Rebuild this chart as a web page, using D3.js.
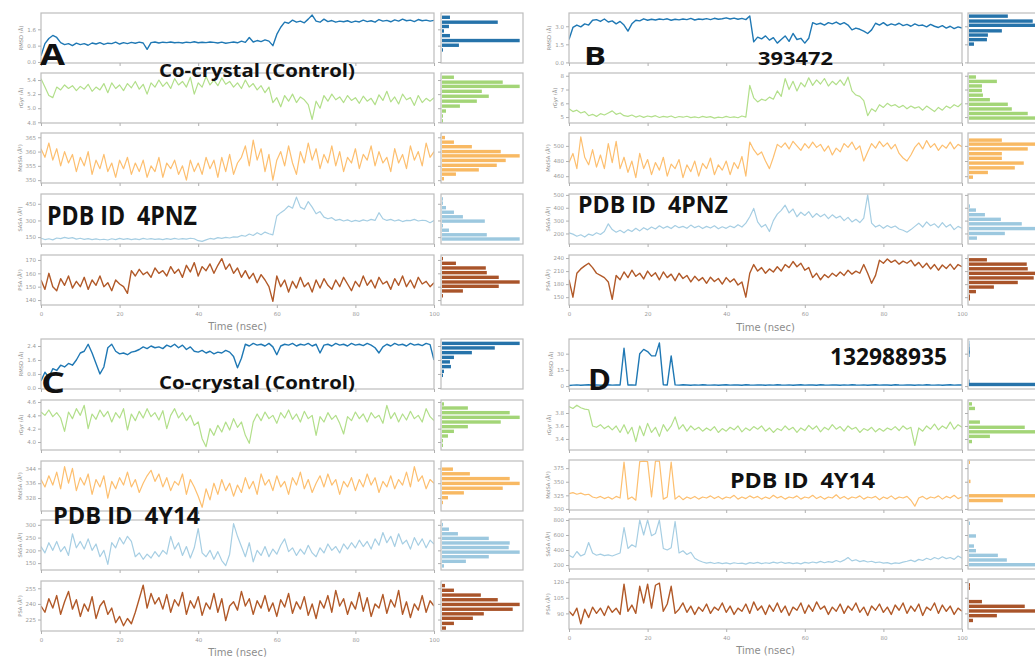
<!DOCTYPE html>
<html>
<head>
<meta charset="utf-8">
<title>Ligand properties over 100 ns MD</title>
<style>
  body { margin: 0; background: #fff; }
  svg { display: block; }
  .tick line { stroke: #b0b0b0; }
  .tick text { fill: #9a9a9a; font-family: 'DejaVu Sans', sans-serif; font-size: 5.5px; }
  .ylab { fill: #8a8a8a; font-family: 'DejaVu Sans', sans-serif; font-size: 5.2px; }
  .xlab { fill: #8c8c8c; font-family: 'DejaVu Sans', sans-serif; font-size: 10px; }
  .note { fill: #111; font-family: 'Open Sans', 'Noto Sans', sans-serif; font-weight: 700; white-space: pre; }
</style>
</head>
<body>
<div id="chart"></div>
<script src="https://cdn.jsdelivr.net/npm/d3@7"></script>
<script>
// ---- time series, one value per ns (0..100) ----
// panel A : co-crystal 4PNZ
const rmsdA = [0.3,0.9,1.15,1.3,1.2,0.95,0.85,0.9,0.8,0.92,
  0.85,0.9,0.82,0.93,0.88,0.95,0.86,0.92,0.9,0.97,
  0.88,0.95,0.9,0.96,0.92,0.97,0.93,0.62,0.95,0.98,
  0.93,0.97,0.95,0.98,0.94,0.96,0.93,0.97,0.95,0.99,
  0.94,0.97,0.95,0.98,0.96,0.93,0.97,0.92,0.95,0.98,
  0.94,1.02,0.96,1.2,0.98,1.05,1.0,1.08,1.02,0.8,
  1.35,1.7,1.95,1.9,2.05,1.95,2.0,1.92,2.1,2.3,
  2.0,1.95,2.1,1.98,2.03,1.95,2.0,1.97,2.02,1.94,
  2.0,1.96,2.05,1.98,2.02,1.95,2.08,2.0,2.04,1.97,
  2.06,2.0,2.1,2.02,2.05,1.98,2.08,2.02,2.05,2.0,
  2.04];
const rgyrA = [5.42,5.3,5.18,5.15,5.3,5.26,5.33,5.28,5.32,5.25,
  5.31,5.27,5.34,5.24,5.3,5.26,5.35,5.22,5.36,5.28,
  5.33,5.25,5.35,5.29,5.38,5.27,5.34,5.2,5.36,5.3,
  5.4,5.31,5.37,5.28,5.42,5.33,5.38,5.3,5.44,5.2,
  5.36,5.3,5.45,5.33,5.4,5.32,5.43,5.34,5.38,5.3,
  5.36,5.28,5.4,5.3,5.35,5.26,5.32,5.22,5.3,5.08,
  5.15,5.02,5.18,5.1,5.2,5.08,5.16,5.12,5.05,4.84,
  5.1,5.0,5.18,5.1,5.2,5.12,5.16,5.08,5.18,5.11,
  5.15,5.07,5.17,5.1,5.14,5.05,5.19,5.11,5.24,5.09,
  5.16,5.06,5.2,5.12,5.15,5.04,5.18,5.08,5.14,5.1,
  5.15];
const molsaA = [361,358,363,357,361,355,360,356,359,353,
  358,355,360,352,357,354,359,353,356,351,
  357,354,358,352,356,353,357,351,355,353,
  358,351,356,354,357,352,355,350,357,353,
  356,352,358,354,357,351,358,353,359,352,
  356,358,362,355,364,357,361,353,359,350,
  357,360,355,362,356,352,360,356,363,357,
  361,354,359,356,362,355,360,353,358,356,
  361,354,359,357,362,355,360,356,358,353,
  361,356,359,354,362,357,360,355,363,358,
  360];
const sasaA = [140,128,135,125,142,136,148,138,145,132,
  140,130,137,128,134,126,131,124,135,128,
  138,130,136,127,134,128,138,131,136,129,
  134,127,136,130,138,131,137,132,140,135,
  118,112,125,138,132,145,138,148,142,152,
  150,165,158,178,165,190,172,195,180,170,
  340,370,395,430,410,510,420,400,470,420,
  360,380,330,315,325,300,310,295,305,290,
  300,292,305,295,310,300,370,315,300,310,
  295,305,290,300,298,310,295,302,298,280,
  300];
const psaA = [155,148,160,150,147,156,151,158,149,154,
  150,157,148,155,151,158,150,153,147,155,
  152,150,145,162,158,163,159,161,157,164,
  160,162,158,165,160,163,157,166,161,168,
  158,165,162,167,160,166,171,163,167,160,
  164,157,162,156,160,153,159,155,150,139,
  158,150,155,146,154,149,157,150,153,146,
  155,149,156,151,148,155,150,157,152,147,
  154,150,158,151,155,149,157,152,154,148,
  156,151,158,150,155,149,157,152,154,150,
  153];

// panel B : compound 393472 in 4PNZ
const rmsdB = [1.9,2.9,3.1,2.95,3.2,3.1,3.5,3.55,3.4,3.6,
  3.35,3.45,3.2,3.4,3.1,2.6,3.2,3.5,3.45,3.62,
  3.5,3.58,3.52,3.6,3.55,3.62,3.5,3.58,3.53,3.6,
  3.55,3.65,3.52,3.6,3.56,3.63,3.55,3.66,3.58,3.62,
  3.7,3.6,3.68,3.58,3.65,3.55,3.85,1.7,2.1,1.95,
  2.2,1.85,2.05,1.6,1.9,2.2,1.75,2.4,1.9,2.0,
  1.6,2.0,3.3,3.15,3.25,3.1,3.3,3.2,3.35,3.15,
  3.3,3.1,2.7,2.85,2.75,2.6,2.4,2.7,3.25,3.1,
  3.3,3.05,3.2,3.1,3.25,3.05,3.15,3.0,3.2,3.05,
  3.1,2.95,3.15,3.0,2.9,3.05,2.85,3.0,2.8,2.95,
  2.85];
const rgyrB = [5.6,5.4,5.5,5.3,5.4,5.1,5.2,5.05,5.25,5.15,
  5.3,5.45,5.2,5.3,5.1,5.05,5.15,5.0,5.1,4.98,
  5.08,5.02,5.1,4.97,5.05,5.0,5.08,4.95,5.04,4.99,
  5.06,4.96,5.02,4.95,5.05,4.98,5.03,4.92,5.0,4.95,
  5.05,4.97,5.02,4.95,5.08,5.0,7.3,6.4,6.1,6.3,
  6.2,6.45,6.3,6.9,6.5,7.8,7.0,7.6,6.9,7.5,
  7.2,7.85,7.3,7.7,7.4,7.8,7.25,7.6,7.35,7.7,
  7.3,7.9,6.9,6.6,6.5,6.2,5.1,5.6,5.4,5.9,
  5.7,6.0,5.8,5.9,5.7,5.85,5.6,5.8,5.65,5.75,
  5.5,5.8,5.6,5.4,5.7,5.5,5.8,5.65,5.9,5.75,
  6.0];
const molsaB = [478,490,470,512,485,475,495,472,488,470,
  503,478,506,470,485,465,480,458,490,470,
  482,462,478,468,485,460,476,470,482,458,
  475,466,480,460,477,470,484,462,475,468,
  480,462,478,470,486,460,505,495,488,492,
  480,470,485,502,498,504,496,506,500,494,
  503,497,505,498,502,493,500,488,497,492,
  503,498,505,495,500,480,492,503,497,506,
  499,504,496,502,490,484,480,488,498,504,
  496,507,498,503,494,501,497,505,496,502,
  499];
const sasaB = [205,195,178,190,172,195,185,205,192,215,
  275,230,210,225,205,230,215,240,220,245,
  228,250,235,260,240,255,238,262,245,255,
  240,265,245,258,238,255,242,260,236,252,
  240,258,245,268,250,280,330,395,290,250,
  270,215,300,350,380,420,360,390,330,365,
  340,370,325,355,330,350,315,345,320,335,
  300,325,290,310,285,320,500,280,250,265,
  240,262,245,258,235,225,210,230,255,280,
  250,290,260,275,245,285,250,270,230,255,
  240];
const psaB = [190,150,205,215,222,228,218,205,200,195,
  185,145,200,190,208,195,212,198,205,192,
  210,198,206,190,208,195,203,188,205,193,
  200,185,198,188,195,182,196,186,193,180,
  195,185,192,178,185,150,205,225,210,218,
  205,215,208,220,210,225,218,232,220,228,
  212,218,195,205,190,202,195,205,198,208,
  200,212,203,210,205,225,205,182,200,235,
  228,238,230,235,226,233,228,235,222,230,
  218,228,215,225,212,224,216,226,214,225,
  220];

// panel C : co-crystal 4Y14
const rmsdC = [0.4,0.9,0.6,1.1,1.0,1.3,1.2,1.4,1.3,1.6,
  2.0,2.1,2.5,2.0,1.4,0.8,1.2,2.3,2.5,2.1,
  1.95,2.0,1.9,2.05,2.1,2.2,2.35,2.25,2.4,2.3,
  2.35,2.25,2.45,2.35,2.5,2.3,2.45,2.2,2.35,2.1,
  2.05,2.15,2.0,2.1,1.95,2.05,2.0,2.15,2.05,1.8,
  1.15,1.7,2.5,2.4,2.55,2.45,2.5,2.4,2.55,2.35,
  1.9,2.4,2.5,2.45,2.55,2.4,2.5,2.45,2.55,2.4,
  2.5,2.0,2.45,2.5,2.4,2.55,2.45,2.5,2.4,2.55,
  2.45,2.5,2.42,2.55,2.45,2.3,2.0,2.35,2.5,2.4,
  2.55,2.45,2.5,2.4,2.55,2.45,2.5,2.42,2.55,2.48,
  1.6];
const rgyrC = [4.45,4.4,4.48,4.38,4.44,4.36,4.16,4.45,4.35,4.5,
  4.4,4.55,4.2,4.42,4.34,4.48,4.38,4.46,4.3,4.44,
  4.36,4.5,4.18,4.42,4.32,4.46,4.36,4.5,4.38,4.44,
  4.33,4.47,4.2,4.4,4.5,4.36,4.44,4.32,4.4,4.25,
  4.3,4.05,3.93,4.2,4.1,4.25,4.15,4.3,4.18,4.35,
  4.22,4.3,4.1,3.98,4.3,4.42,4.32,4.45,4.35,4.4,
  4.28,4.44,4.36,4.48,4.34,4.42,4.3,4.46,4.35,4.4,
  4.1,4.38,4.3,4.44,4.34,4.4,4.28,4.12,4.38,4.32,
  4.45,4.35,4.42,4.3,4.44,4.36,4.4,4.28,4.55,4.35,
  4.44,4.3,4.42,4.33,4.46,4.35,4.4,4.3,4.5,4.38,
  4.32];
const molsaC = [338,334,340,335,342,333,345,336,344,332,
  339,335,341,330,338,334,340,328,337,333,
  339,335,342,334,338,331,336,340,343,337,
  341,334,339,332,337,335,341,330,338,334,
  329,323,333,327,336,330,338,332,336,329,
  335,331,339,333,337,330,341,335,338,332,
  340,334,337,330,339,335,342,333,338,331,
  336,340,334,341,335,338,330,337,334,339,
  332,338,334,341,335,339,331,337,334,340,
  333,338,335,342,334,345,337,340,333,338,
  336];
const sasaC = [215,190,230,200,235,195,215,180,265,210,
  235,205,245,200,225,175,200,145,230,210,
  250,225,255,235,175,190,165,185,170,195,
  175,200,185,255,205,230,180,215,170,210,
  285,190,175,200,165,195,160,140,185,305,
  255,215,175,230,155,200,180,215,175,205,
  185,220,245,195,210,180,205,185,220,190,
  175,210,190,225,200,215,190,225,205,230,
  210,240,215,235,205,245,220,270,230,255,
  215,265,225,240,205,250,220,245,210,240,
  225];
const psaC = [238,232,245,236,248,230,242,252,235,244,
  228,240,233,247,226,238,243,230,236,222,
  228,219,226,221,232,245,258,236,250,240,
  246,235,249,232,244,238,251,230,243,236,
  247,229,241,235,250,232,245,224,238,242,
  234,252,238,245,230,243,236,248,233,241,
  228,244,237,250,231,242,235,247,229,240,
  226,243,236,248,232,253,238,245,230,242,
  235,251,233,246,228,240,236,249,231,244,
  237,253,230,242,227,240,234,248,232,243,
  238];

// panel D : compound 132988935 in 4Y14
const rmsdD = [0.6,0.9,1.1,0.8,1.0,1.2,0.9,1.1,0.8,1.0,
  1.2,0.9,1.1,1.0,35,1.0,1.1,0.9,30,34,
  32,28,28,40,1.2,1.0,28,1.1,0.9,1.2,
  1.0,0.8,1.1,0.9,1.2,1.0,0.9,1.1,0.8,1.0,
  1.2,0.9,1.1,1.0,0.8,1.2,1.0,0.9,1.1,1.0,
  0.8,1.1,0.9,1.2,1.0,0.9,1.1,0.8,1.0,1.2,
  0.9,1.1,1.0,0.8,1.2,1.0,0.9,1.1,1.0,0.8,
  1.1,0.9,1.2,1.0,0.9,1.1,0.8,1.0,1.2,0.9,
  1.1,1.0,0.8,1.2,1.0,0.9,1.1,1.0,0.8,1.1,
  0.9,1.2,1.0,0.9,1.1,0.8,1.0,1.2,0.9,1.1,
  1.0];
const rgyrD = [3.9,3.87,3.92,3.88,3.86,3.85,3.6,3.58,3.62,3.56,
  3.6,3.54,3.6,3.5,3.62,3.48,3.58,3.36,3.6,3.45,
  3.64,3.5,3.58,3.44,3.62,3.52,3.6,3.74,3.55,3.62,
  3.52,3.6,3.54,3.58,3.52,3.57,3.53,3.59,3.5,3.56,
  3.52,3.58,3.54,3.6,3.51,3.57,3.53,3.59,3.55,3.6,
  3.52,3.57,3.5,3.56,3.53,3.6,3.54,3.58,3.5,3.57,
  3.53,3.61,3.55,3.6,3.51,3.58,3.54,3.62,3.55,3.59,
  3.52,3.6,3.55,3.58,3.5,3.56,3.53,3.58,3.51,3.56,
  3.52,3.57,3.54,3.59,3.53,3.6,3.55,3.58,3.3,3.57,
  3.52,3.6,3.55,3.63,3.54,3.6,3.56,3.66,3.55,3.62,
  3.58];
const molsaD = [328,330,327,329,326,327,322,320,323,319,
  322,318,323,320,386,318,322,316,387,388,
  387,322,388,388,318,322,386,318,324,317,
  322,319,323,318,322,320,324,319,323,318,
  322,320,325,318,322,319,324,320,323,318,
  322,319,325,320,323,318,322,320,324,318,
  322,320,325,319,323,318,322,320,326,319,
  323,318,322,320,324,318,322,320,323,317,
  322,319,324,318,322,320,323,316,305,320,
  323,318,322,320,324,318,323,320,325,319,
  322];
const sasaD = [330,300,380,320,345,500,360,330,345,325,
  335,320,340,360,700,420,470,440,800,600,
  800,590,620,800,420,400,430,780,360,390,
  340,370,290,260,240,225,235,220,232,218,
  228,215,230,220,226,212,232,222,236,218,
  230,222,238,225,240,222,232,218,228,215,
  235,225,240,228,248,230,245,235,260,240,
  265,300,255,270,245,258,240,250,232,240,
  225,232,215,228,222,238,250,265,245,275,
  260,290,270,300,280,310,285,300,275,320,
  290];
const psaD = [92,88,95,80,94,86,96,90,95,88,
  97,91,95,89,118,92,98,90,116,100,
  118,95,117,119,92,99,116,90,94,100,
  91,97,89,96,92,99,90,96,93,100,
  91,97,89,95,92,99,90,101,93,97,
  89,98,92,100,91,97,88,96,93,100,
  90,98,92,101,94,97,89,96,92,99,
  90,97,93,100,91,96,88,97,93,99,
  91,96,89,98,93,100,90,97,92,99,
  88,96,93,100,90,98,92,97,89,95,
  92];

// ---- histograms: [value, relative count] ----
const rmsdHistA = [[2.19,8],[1.95,56],[1.74,7],[1.52,2],[1.29,8],[1.05,78],[0.82,17],[0.59,1]];
const rgyrHistA = [[5.44,12],[5.37,61],[5.31,78],[5.24,40],[5.17,47],[5.10,35],[5.03,18],[4.96,4],[4.89,1],[4.82,1]];
const molsaHistA = [[364.9,3],[363.3,12],[361.7,30],[360.0,59],[358.5,78],[356.9,64],[355.2,55],[353.6,37],[352.1,14],[350.5,2]];
const sasaHistA = [[494,1],[456,1],[415,4],[374,12],[333,21],[294,43],[253,1],[212,7],[171,45],[133,78]];
const psaHistA = [[171,1],[167.5,14],[164,44],[160.5,45],[157,57],[153.5,78],[150.3,57],[146.8,21],[143.2,1]];

const rmsdHistB = [[3.84,39],[3.43,64],[3.08,78],[2.62,33],[2.27,19],[1.89,18],[1.52,5]];
const rgyrHistB = [[7.91,7],[7.59,28],[7.26,13],[6.93,13],[6.59,14],[6.26,21],[5.93,39],[5.59,43],[5.26,59],[4.93,78]];
const molsaHistB = [[507.6,33],[502.3,78],[496,59],[489.7,33],[483.6,33],[477.3,55],[471,46],[464.9,19],[458.7,4]];
const sasaHistB = [[413,1],[382,7],[346,16],[310,32],[275,53],[238,78],[200,36],[164,8]];
const psaHistB = [[236,18],[226,58],[215.3,59],[204.8,78],[194.3,65],[183.8,49],[173.3,25],[162.8,7],[152.3,1],[146.2,1]];

const rmsdHistC = [[2.55,78],[2.29,53],[2.02,30],[1.75,12],[1.49,8],[1.22,9],[0.95,2],[0.72,1]];
const rgyrHistC = [[4.57,2],[4.51,26],[4.44,68],[4.37,78],[4.30,59],[4.23,26],[4.16,12],[4.09,6],[4.02,1],[3.95,1]];
const molsaHistC = [[343.6,11],[341.1,28],[338.5,68],[335.9,78],[333.3,61],[330.8,22],[328.2,6],[325.6,1]];
const sasaHistC = [[301,1],[283,7],[265,16],[247,47],[229,68],[211,67],[193,78],[175,47],[157,24],[139,2]];
const psaHistC = [[257.6,3],[253.1,12],[248.5,39],[244,56],[239.5,78],[234.9,71],[230.5,42],[226.2,31],[221.3,12],[216.8,4]];

const rmsdHistD = [[1.5,78],[4.5,0.5],[28.5,0.5],[31.5,0.8],[34.5,0.6],[37.5,0.4],[40.5,0.3]];
const rgyrHistD = [[3.94,3],[3.87,6],[3.66,11],[3.58,56],[3.51,78],[3.44,21],[3.36,3]];
const molsaHistD = [[385.8,1],[350.6,1.5],[324.2,78],[315.4,34]];
const sasaHistD = [[756,1],[587,7],[453,5],[391,7],[329,29],[267,38],[204,78]];
const psaHistD = [[117.4,1],[114.2,1],[101.3,13],[96.8,56],[92.3,78],[87.8,28],[83.2,4]];

// ---- axis ranges and tick labels ----
const domainsA = [[-0.05,2.4],[4.79,5.5],[349,366.5],[88,538],[136.3,173.7]];
const domainsB = [[-0.05,4.1],[4.57,8.2],[451,517],[118,507],[132,247]];
const domainsC = [[-0.06,2.8],[3.88,4.63],[321,348],[123,319],[214,262]];
const domainsD = [[-2.7,43.6],[3.23,4.0],[298,390],[147,813],[75,123]];
const ticksA = [[0,0.8,1.6],[4.8,5.0,5.2,5.4],[350,355,360,365],[150,300,450],[140,150,160,170]];
const ticksB = [[0,1.5,3.0],[5,6,7,8],[460,480,500],[200,300,400,500],[150,180,210,240]];
const ticksC = [[0,0.8,1.6,2.4],[4.0,4.2,4.4,4.6],[328,336,344],[150,200,250,300],[225,240,255]];
const ticksD = [[0,15,30],[3.4,3.6,3.8],[300,325,350,375],[200,400,600,800],[90,105,120]];
const timeTicks = [0,20,40,60,80,100];

const rowNames = ['RMSD (Å)','rGyr (Å)','MolSA (Å²)','SASA (Å²)','PSA (Å²)'];
const lineColors = ['#1f78b4','#b2df8a','#fdbf6f','#a6cee3','#b15928'];
const histColors = ['#2673aa','#a3d577','#f8b963','#9cc8df','#a9542a'];

const panels = [
  {id:'A', left:41, right:434, hLeft:441, tops:[13,73,133,194,255], fmts:['.1f','.1f','d','d','d'],
   series:[rmsdA,rgyrA,molsaA,sasaA,psaA], hists:[rmsdHistA,rgyrHistA,molsaHistA,sasaHistA,psaHistA],
   domains:domainsA, ticks:ticksA, xlabY:330},
  {id:'B', left:569, right:962, hLeft:968, tops:[13,73,133,194,255], fmts:['.1f','d','d','d','d'],
   series:[rmsdB,rgyrB,molsaB,sasaB,psaB], hists:[rmsdHistB,rgyrHistB,molsaHistB,sasaHistB,psaHistB],
   domains:domainsB, ticks:ticksB, xlabY:331},
  {id:'C', left:41, right:434, hLeft:441, tops:[339,400,461,520,581], fmts:['.1f','.1f','d','d','d'],
   series:[rmsdC,rgyrC,molsaC,sasaC,psaC], hists:[rmsdHistC,rgyrHistC,molsaHistC,sasaHistC,psaHistC],
   domains:domainsC, ticks:ticksC, xlabY:656},
  {id:'D', left:569, right:962, hLeft:968, tops:[339,400,460,519,579], fmts:['d','.1f','d','d','d'],
   series:[rmsdD,rgyrD,molsaD,sasaD,psaD], hists:[rmsdHistD,rgyrHistD,molsaHistD,sasaHistD,psaHistD],
   domains:domainsD, ticks:ticksD, xlabY:654}
];

const notes = [
  {text:'A', x:40, y:65, size:28, w:25},
  {text:'Co-crystal (Control)', x:159, y:77, size:17, w:196},
  {text:'PDB ID  4PNZ', x:47, y:225, size:26, w:150},
  {text:'B', x:584, y:65, size:25, w:22},
  {text:'393472', x:758, y:65, size:18, w:75},
  {text:'PDB ID  4PNZ', x:578, y:213, size:23, w:150},
  {text:'C', x:41, y:393, size:28, w:24},
  {text:'Co-crystal (Control)', x:159, y:389, size:17, w:196},
  {text:'PDB ID  4Y14', x:53, y:524, size:24, w:147},
  {text:'D', x:588, y:390, size:29, w:23},
  {text:'132988935', x:830, y:365, size:24, w:117},
  {text:'PDB ID  4Y14', x:730, y:488, size:22, w:145}
];

const rowH = 50, histW = 82, barH = 3.4;
const frameColor = '#bdbdbd';

const svg = d3.select('#chart').append('svg').attr('width', 1035).attr('height', 657);
const defs = svg.append('defs');

panels.forEach(p => {
  const x = d3.scaleLinear().domain([0, 100]).range([p.left, p.right]);

  p.series.forEach((vals, i) => {
    const top = p.tops[i], bottom = top + rowH;
    const y = d3.scaleLinear().domain(p.domains[i]).range([bottom, top]);
    const g = svg.append('g');

    const clipId = 'clip' + p.id + i;
    defs.append('clipPath').attr('id', clipId).append('rect')
      .attr('x', p.left).attr('y', top).attr('width', p.right - p.left).attr('height', rowH);

    g.append('path')
      .datum(vals)
      .attr('clip-path', 'url(#' + clipId + ')')
      .attr('fill', 'none')
      .attr('stroke', lineColors[i])
      .attr('stroke-width', i === 0 || i === 4 ? 1.4 : 1.2)
      .attr('stroke-linejoin', 'round')
      .attr('d', d3.line().x((d, j) => x(j)).y(d => y(d)));

    g.append('rect')
      .attr('x', p.left).attr('y', top).attr('width', p.right - p.left).attr('height', rowH)
      .attr('fill', 'none').attr('stroke', frameColor).attr('stroke-width', 1.2);

    // y axis
    const ya = g.append('g').attr('transform', 'translate(' + p.left + ',0)')
      .call(d3.axisLeft(y).tickValues(p.ticks[i]).tickSize(3).tickPadding(2).tickFormat(d3.format(p.fmts[i])));
    ya.select('.domain').remove();
    ya.attr('font-size', null).attr('font-family', null);
    let maxW = 0;
    ya.selectAll('text').each(function () { maxW = Math.max(maxW, this.getComputedTextLength()); });

    g.append('text').attr('class', 'ylab')
      .attr('transform', 'translate(' + (p.left - 7 - maxW - 2) + ',' + (top + rowH / 2) + ') rotate(-90)')
      .attr('text-anchor', 'middle')
      .text(rowNames[i]);

    // x axis
    const isLast = i === p.series.length - 1;
    const xa = g.append('g').attr('transform', 'translate(0,' + bottom + ')')
      .call(d3.axisBottom(x).tickValues(timeTicks).tickSize(3).tickPadding(4)
        .tickFormat(isLast ? d3.format('d') : ''));
    xa.select('.domain').remove();
    xa.attr('font-size', null).attr('font-family', null);

    // histogram cell
    const hg = g.append('g');
    const hx = d3.scaleLinear().domain([0, d3.max(p.hists[i], d => d[1]) * 1.03]).range([0, histW - 2]);
    hg.selectAll('rect.bar').data(p.hists[i]).join('rect')
      .attr('class', 'bar')
      .attr('x', p.hLeft + 1)
      .attr('y', d => y(d[0]) - barH / 2)
      .attr('width', d => hx(d[1]))
      .attr('height', barH)
      .attr('fill', histColors[i]);
    hg.append('rect')
      .attr('x', p.hLeft).attr('y', top).attr('width', histW).attr('height', rowH)
      .attr('fill', 'none').attr('stroke', frameColor).attr('stroke-width', 1.2);
    const ha = hg.append('g').attr('transform', 'translate(' + p.hLeft + ',0)')
      .call(d3.axisLeft(y).tickValues(p.ticks[i]).tickSize(3).tickFormat(''));
    ha.select('.domain').remove();
  });

  svg.append('text').attr('class', 'xlab')
    .attr('x', (p.left + p.right) / 2).attr('y', p.xlabY)
    .attr('text-anchor', 'middle')
    .text('Time (nsec)');
});

svg.selectAll('text.note').data(notes).join('text')
  .attr('class', 'note')
  .attr('xml:space', 'preserve')
  .attr('x', d => d.x).attr('y', d => d.y)
  .attr('font-size', d => d.size)
  .attr('textLength', d => d.w)
  .attr('lengthAdjust', 'spacingAndGlyphs')
  .text(d => d.text);
</script>
</body>
</html>
